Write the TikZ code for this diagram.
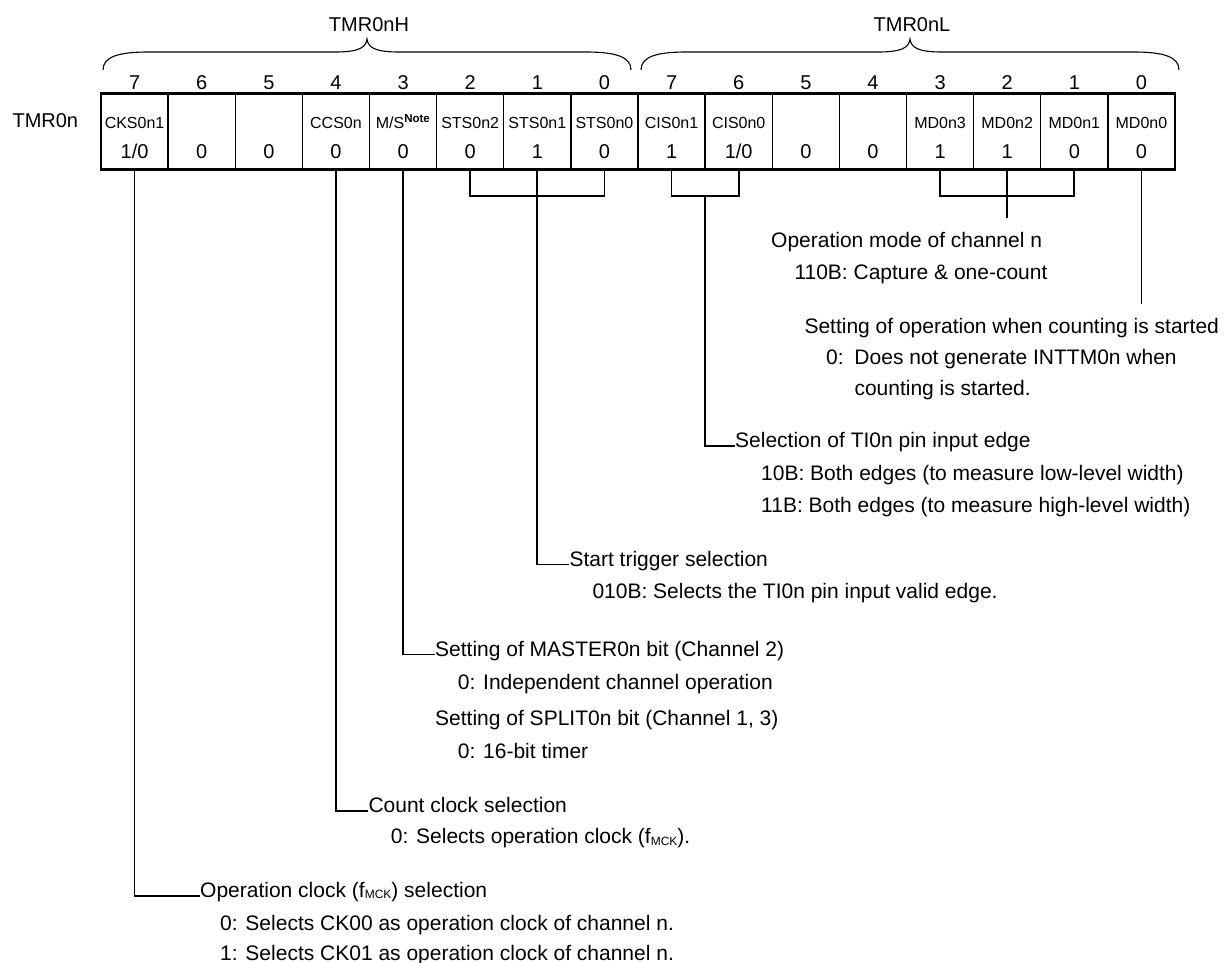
\documentclass[tikz,border=0pt]{standalone}
\usepackage{fontspec}
\setmainfont{Liberation Sans}
\usetikzlibrary{calc}
\newcommand\fmck{f{\fontsize{12}{12}\selectfont\raisebox{-1.5pt}{MCK}}}
\begin{document}
\begin{tikzpicture}[x=1pt,y=-1pt,
  cell/.style={draw, line width=1.4pt, minimum width=67.125pt, minimum height=75.8pt, inner sep=0pt, outer sep=0pt},
  txt/.style={anchor=base west, inner sep=0pt, font=\fontsize{21}{25}\selectfont},
  nm/.style={anchor=base, inner sep=0pt, font=\fontsize{16}{18}\selectfont},
  val/.style={anchor=base, inner sep=0pt, font=\fontsize{20}{24}\selectfont},
  conn/.style={line width=1.8pt},
  brace/.style={line width=1.1pt}]
\useasboundingbox (0,0) rectangle (1228,963);
% cells
\foreach \i in {0,...,15} {
  \node[cell] (c\i) at ({101+(\i+0.5)*67.125},131.4) {};
}
\draw[line width=2.6pt] (c0.north west) rectangle (c15.south east);
\draw[line width=2.6pt] (c8.north west) -- (c8.south west);
% bit numbers
\foreach \i/\b in {0/7,1/6,2/5,3/4,4/3,5/2,6/1,7/0,8/7,9/6,10/5,11/4,12/3,13/2,14/1,15/0} {
  \node[val] (b\i) at ({101+(\i+0.5)*67.125},89.9) {\b};
}
% values
\foreach \i/\v in {0/1\slash 0,1/0,2/0,3/0,4/0,5/0,6/1,7/0,8/1,9/1\slash 0,10/0,11/0,12/1,13/1,14/0,15/0} {
  \node[val] (v\i) at ({101+(\i+0.5)*67.125},158.9) {\v};
}
% names
\node[nm] (nm0) at ({101+0.5*67.125},128.8) {CKS0n1};
\node[nm] (nm3) at ({101+3.5*67.125},128.8) {CCS0n};
\node[nm] (nm4) at ({101+4.5*67.125},128.8) {M/S\textsuperscript{\fontsize{11.5}{12}\selectfont\bfseries Note}};
\node[nm] (nm5) at ({101+5.5*67.125},128.8) {STS0n2};
\node[nm] (nm6) at ({101+6.5*67.125},128.8) {STS0n1};
\node[nm] (nm7) at ({101+7.5*67.125},128.8) {STS0n0};
\node[nm] (nm8) at ({101+8.5*67.125},128.8) {CIS0n1};
\node[nm] (nm9) at ({101+9.5*67.125},128.8) {CIS0n0};
\node[nm] (nm12) at ({101+12.5*67.125},128.8) {MD0n3};
\node[nm] (nm13) at ({101+13.5*67.125},128.8) {MD0n2};
\node[nm] (nm14) at ({101+14.5*67.125},128.8) {MD0n1};
\node[nm] (nm15) at ({101+15.5*67.125},128.8) {MD0n0};
% register name and braces
\node[val, anchor=base east] (reg) at (78.3,127.2) {TMR0n};
\node[val] (hname) at (369,32) {TMR0nH};
\node[val] (lname) at (912,32) {TMR0nL};
\draw[brace] (103,70) .. controls (103,57) and (118,52) .. (148,52) -- (335,52)
  .. controls (358,52) and (366,48) .. (367,39) .. controls (368,48) and (376,52) .. (399,52)
  -- (586,52) .. controls (616,52) and (631,57) .. (631,70);
\draw[brace] (641,70) .. controls (641,57) and (656,52) .. (686,52) -- (878,52)
  .. controls (901,52) and (909,48) .. (910,39) .. controls (911,48) and (919,52) .. (942,52)
  -- (1134,52) .. controls (1164,52) and (1179,57) .. (1179,70);
% texts
\node[txt] (opmode) at (771,247) {Operation mode of channel n};
\node[txt] (opmodeA) at (794.3,279) {110B: Capture \& one-count};
\node[txt] (setop) at (804.3,333) {Setting of operation when counting is started};
\node[txt] (setopA) at (826,364.3) {\makebox[28.3pt][l]{0:}Does not generate INTTM0n when};
\node[txt] (setopB) at (854.3,395.3) {counting is started.};
\node[txt] (sel) at (735,447.5) {Selection of TI0n pin input edge};
\node[txt] (selA) at (761,480.3) {10B: Both edges (to measure low-level width)};
\node[txt] (selB) at (761,512) {11B: Both edges (to measure high-level width)};
\node[txt] (start) at (569.3,566) {Start trigger selection};
\node[txt] (startA) at (592.3,598.7) {010B: Selects the TI0n pin input valid edge.};
\node[txt] (master) at (435,656) {Setting of MASTER0n bit (Channel 2)};
\node[txt] (masterA) at (457.7,689.5) {0: Independent channel operation};
\node[txt] (split) at (435,725) {Setting of SPLIT0n bit (Channel 1, 3)};
\node[txt] (splitA) at (457.7,758) {0: 16-bit timer};
\node[txt] (count) at (368.3,812.3) {Count clock selection};
\node[txt] (countA) at (390.7,843.7) {0: Selects operation clock (\fmck).};
\node[txt] (opclk) at (200,897.3) {Operation clock (\fmck) selection};
\node[txt] (opclkA) at (220,930.3) {0: Selects CK00 as operation clock of channel n.};
\node[txt] (opclkB) at (220,960.3) {1: Selects CK01 as operation clock of channel n.};
% connectors
\coordinate (yMD) at (0,218.3);
\coordinate (yMDz) at (0,304);
\draw[conn] (c12.south) -- ++(0,26.4) -| (c14.south);
\draw[conn] (c13.south) -- (c13.south |- yMD);
\draw[conn] (c15.south) -- (c15.south |- yMDz);
\draw[conn] (c8.south) -- ++(0,26.4) -| (c9.south);
\coordinate (cism) at ($(c8.south)!0.5!(c9.south)+(0,26.4)$);
\draw[conn] (cism) |- ([yshift=1.5pt]sel.base west);
\draw[conn] (c5.south) -- ++(0,26.4) -| (c7.south);
\draw[conn] (c6.south) |- ([yshift=1.5pt]start.base west);
\draw[conn] (c4.south) |- ([yshift=1.5pt]master.base west);
\draw[conn] (c3.south) |- ([yshift=1.5pt]count.base west);
\draw[conn] (c0.south) |- ([yshift=1.5pt]opclk.base west);
\end{tikzpicture}
\end{document}
